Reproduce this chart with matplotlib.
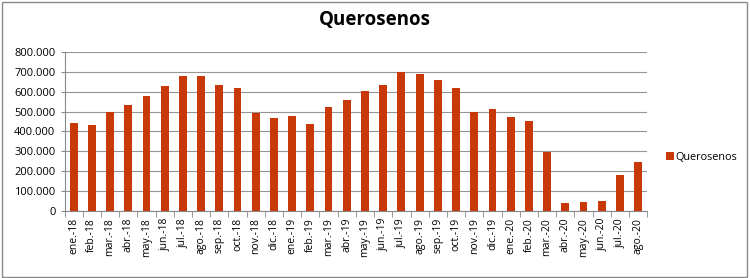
import matplotlib.pyplot as plt
import matplotlib.ticker as mticker
import numpy as np

plt.rcParams['font.family'] = ['Open Sans', 'DejaVu Sans']

months = ["ene.-18", "feb.-18", "mar.-18", "abr.-18", "may.-18", "jun.-18",
          "jul.-18", "ago.-18", "sep.-18", "oct.-18", "nov.-18", "dic.-18",
          "ene.-19", "feb.-19", "mar.-19", "abr.-19", "may.-19", "jun.-19",
          "jul.-19", "ago.-19", "sep.-19", "oct.-19", "nov.-19", "dic.-19",
          "ene.-20", "feb.-20", "mar.-20", "abr.-20", "may.-20", "jun.-20",
          "jul.-20", "ago.-20"]
querosenos = [445000, 432000, 497000, 533000, 580000, 627000,
              677000, 677000, 632000, 617000, 492000, 470000,
              478000, 437000, 523000, 557000, 602000, 633000,
              698000, 688000, 657000, 618000, 500000, 515000,
              473000, 453000, 298000, 38000, 47000, 52000,
              183000, 247000]
yticks = [0, 100000, 200000, 300000, 400000, 500000, 600000, 700000, 800000]

fig = plt.figure(figsize=(7.5, 2.78), dpi=100)
ax = fig.add_axes([0.086, 0.241, 0.777, 0.572])

x = np.arange(len(months))
ax.bar(x, querosenos, width=0.43, color="#C8390A", label="Querosenos", zorder=3)

ax.set_xlim(-0.5, len(months) - 0.5)
ax.set_ylim(0, 800000)
ax.set_yticks(yticks)
ax.yaxis.set_major_formatter(mticker.FuncFormatter(
    lambda v, p: "0" if v == 0 else f"{int(v):,}".replace(",", ".")))
ax.set_xticks(x)
ax.set_xticklabels(months, rotation=90, fontsize=7.5)
ax.tick_params(axis="x", length=0, pad=5)
ax.set_xticks(np.arange(-0.5, len(months), 1), minor=True)
ax.tick_params(axis="x", which="minor", length=4, color="#888888")
ax.tick_params(axis="y", labelsize=8, length=3, color="#888888")
ax.grid(axis="y", color="#959595", linewidth=0.8, zorder=0)

for s in ["top", "right"]:
    ax.spines[s].set_visible(False)
ax.spines["left"].set_color("#888888")
ax.spines["bottom"].set_color("#888888")

fig.suptitle("Querosenos", fontsize=13.5, fontweight="bold", x=0.5, y=0.965)

fig.legend(loc="center left", bbox_to_anchor=(0.875, 0.435), frameon=False,
           fontsize=7.8, handlelength=0.7, handleheight=0.7, handletextpad=0.2)

fig.patches.append(plt.Rectangle((0.002, 0.004), 0.994, 0.99, transform=fig.transFigure,
                                 fill=False, edgecolor="#888888", linewidth=1))

fig.savefig("out.png", dpi=100)
